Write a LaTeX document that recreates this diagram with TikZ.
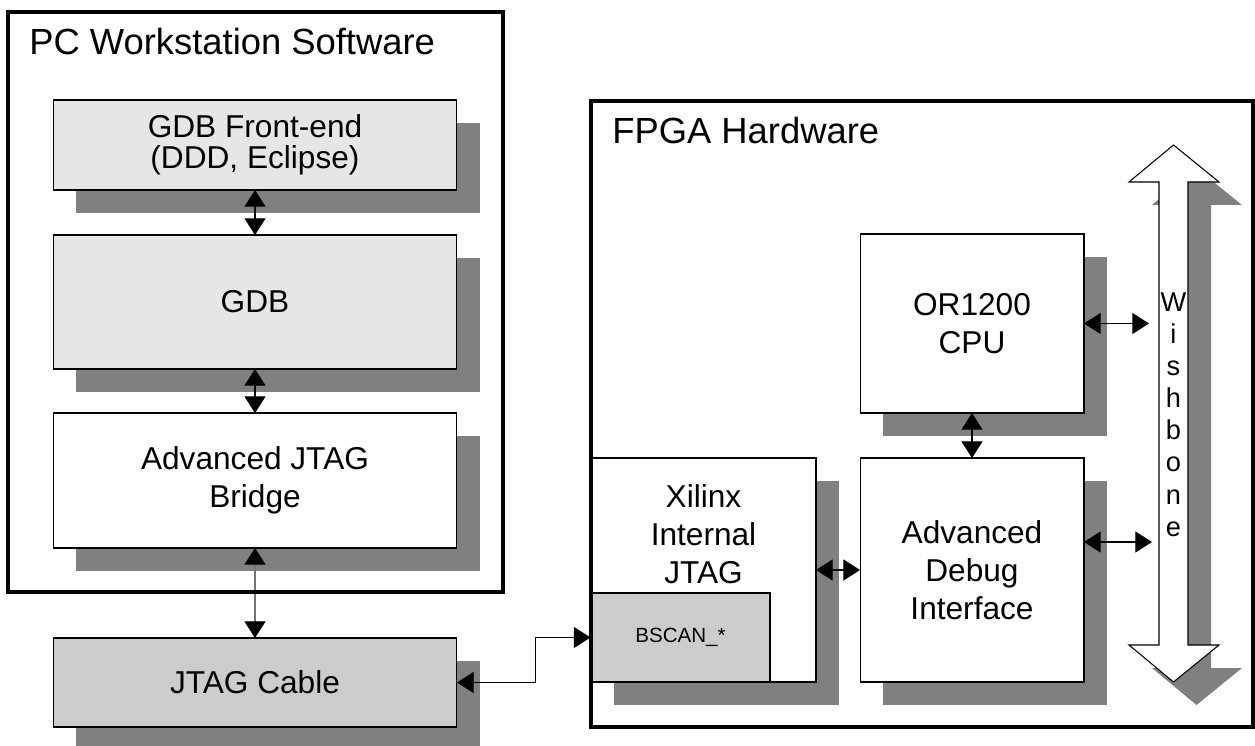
\documentclass[tikz,border=0pt]{standalone}
\usepackage{fontspec}
\setmainfont{Liberation Sans}
\usetikzlibrary{arrows.meta,shadows}

\definecolor{boxlight}{HTML}{E6E6E6}
\definecolor{boxmid}{HTML}{CCCCCC}
\definecolor{boxshade}{HTML}{808080}

\begin{document}
\begin{tikzpicture}[x=0.02cm, y=-0.02cm,
    block/.style={shape=rectangle, draw=black, line width=0.6pt, fill=white,
      inner sep=0pt, outer sep=0pt, align=center,
      font=\fontsize{18}{21.6}\selectfont,
      drop shadow={shadow xshift=0.46cm, shadow yshift=-0.46cm, fill=boxshade, opacity=1}},
    frame/.style={draw=black, line width=1.8pt},
    title/.style={anchor=base west, inner sep=0pt, font=\fontsize{20.7}{24}\selectfont},
    link/.style={{Triangle[length=9.5pt,width=12pt,color=black]}-{Triangle[length=9.5pt,width=12pt,color=black]},
      line width=0.6pt}]
          \useasboundingbox (0,0) rectangle (1255,746);

          % titles
          \node[title] at (29,55) (pctitle) {PC Workstation Software};
          \node[title] at (612,144) (fpgatitle) {FPGA Hardware};

          % software side
          \node[block, fill=boxlight, minimum width=8.08cm, minimum height=1.8cm,
            font=\fontsize{18}{18}\selectfont] at (255,145)
          (fe) {GDB Front-end\\(DDD, Eclipse)};
          \node[block, fill=boxlight, minimum width=8.08cm, minimum height=2.68cm] at (255,302)
          (gdb) {GDB};
          \node[block, minimum width=8.08cm, minimum height=2.7cm] at (255,480.5)
          (bridge) {Advanced JTAG\\Bridge};
          \node[block, fill=boxmid, minimum width=8.08cm, minimum height=1.78cm] at (255,682.5)
          (cable) {JTAG Cable};

          % hardware side
          \node[block, minimum width=4.48cm, minimum height=3.58cm] at (972,323.5)
          (cpu) {OR1200\\CPU};
          \node[block, minimum width=4.48cm, minimum height=4.48cm] at (972,570)
          (dbg) {Advanced\\Debug\\Interface};
          \node[block, minimum width=4.5cm, minimum height=4.48cm,
            label={[anchor=north, align=center, inner sep=0pt, yshift=-0.52cm,
              font=\fontsize{18}{21.6}\selectfont]north:{Xilinx\\Internal\\JTAG}}] at (703.5,570)
          (xlx) {};
          \node[shape=rectangle, draw=black, line width=0.6pt, fill=boxmid, inner sep=0pt,
            minimum width=3.58cm, minimum height=1.78cm, font=\fontsize{11.7}{14}\selectfont] at (680.5,637.5)
          (bscan) {BSCAN\_*};

          % wishbone bus
          \fill[boxshade, shift={(23,23)}] (1173.5,145) -- (1219,182) -- (1188,182) -- (1188,645)
            -- (1219,645) -- (1173.5,682) -- (1129,645) -- (1159,645) -- (1159,182) -- (1129,182) -- cycle;
          \filldraw[fill=white, draw=black, line width=0.6pt] (1173.5,145) -- (1219,182) -- (1188,182) -- (1188,645)
            -- (1219,645) -- (1173.5,682) -- (1129,645) -- (1159,645) -- (1159,182) -- (1129,182) -- cycle;
          \node[align=center, inner sep=0pt, font=\fontsize{15.5}{18.3}\selectfont] at (1173.5,414.5)
          (wbtext) {W\\i\\s\\h\\b\\o\\n\\e};
          \coordinate (wbcpu) at (1149,323.5);
          \coordinate (wbdbg) at (1152,542);

          % arcs
          \draw[link]
          (fe) -- (gdb);
          \draw[link]
          (gdb) -- (bridge);
          \draw[link, draw=black!55]
          (bridge) -- (cable);
          \draw[link]
          (cable.east) -- ++(79,0) |- (bscan.west);
          \draw[link]
          (xlx) -- (dbg);
          \draw[link]
          (cpu) -- (dbg);
          \draw[link]
          (cpu.east) -- (wbcpu);
          \draw[link]
          (wbdbg -| dbg.east) -- (wbdbg);

          % frames
          \draw[frame] (8,12) rectangle (503,592);
          \draw[frame] (591,101) rectangle (1253,727);
        \end{tikzpicture}
\end{document}
